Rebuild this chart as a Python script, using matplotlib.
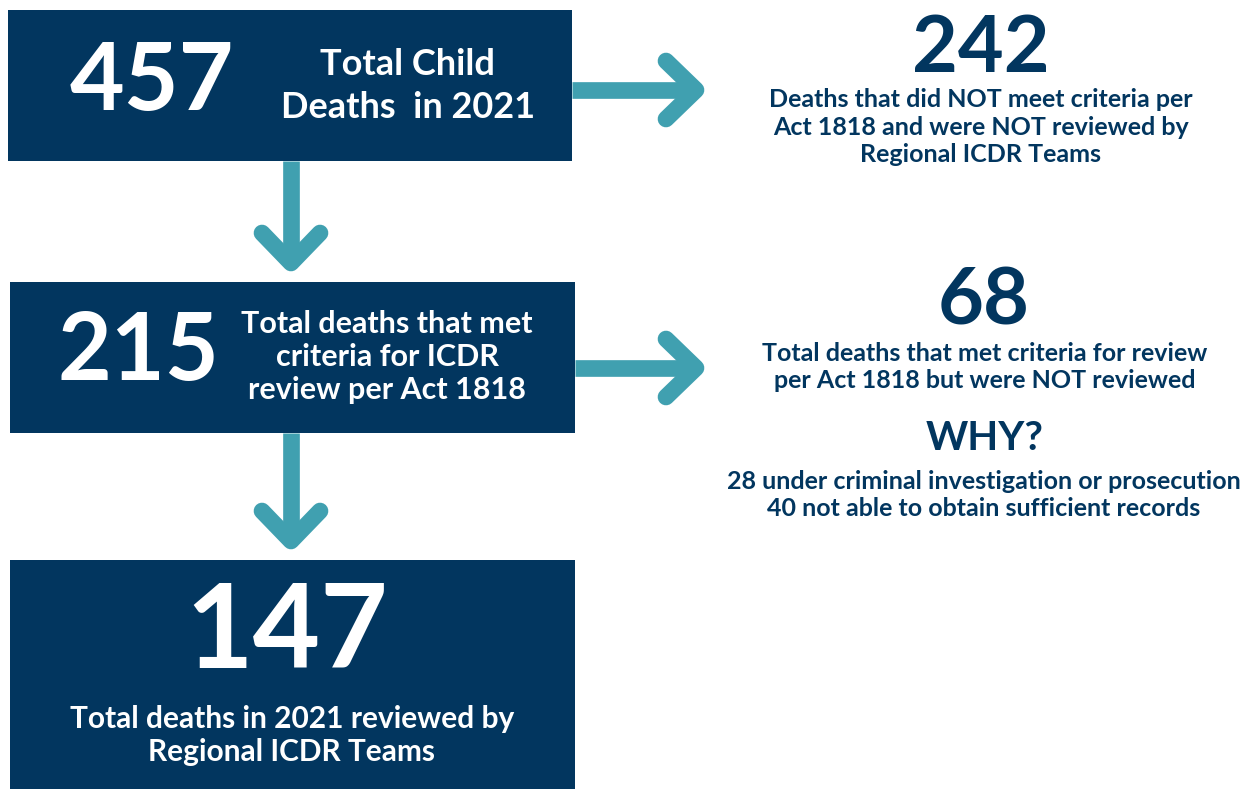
import matplotlib
matplotlib.use("Agg")
import matplotlib.pyplot as plt
from matplotlib.patches import Rectangle

NAVY = "#02365f"
TEAL = "#40a0b0"
FONT = "Lato"

# numbers shown in the flow
total_deaths = 457
not_meeting = 242
met_criteria = 215
met_not_reviewed = 68
reviewed = 147
why_counts = [28, 40]
why_reasons = ["under criminal investigation or prosecution",
               "not able to obtain sufficient records"]

box1_lines = ["Total Child", "Deaths  in 2021"]
box2_lines = ["Total deaths that met", "criteria for ICDR", "review per Act 1818"]
box3_lines = ["Total deaths in 2021 reviewed by", "Regional ICDR Teams"]
side1_lines = ["Deaths that did NOT meet criteria per",
               "Act 1818 and were NOT reviewed by",
               "Regional ICDR Teams"]
side2_lines = ["Total deaths that met criteria for review",
               "per Act 1818 but were NOT reviewed"]

W, H = 1250, 789
fig = plt.figure(figsize=(W / 100, H / 100), dpi=100)
ax = fig.add_axes([0, 0, 1, 1])
ax.set_xlim(0, W)
ax.set_ylim(H, 0)
ax.axis("off")


def box(x0, y0, x1, y1):
    ax.add_patch(Rectangle((x0, y0), x1 - x0, y1 - y0, color=NAVY, lw=0))


def text(x, y, s, size, color="white"):
    ax.text(x, y, s, fontsize=size, color=color, family=FONT,
            fontweight="bold", ha="center", va="baseline")


def lines(x, y0, step, items, size, color="white"):
    for i, s in enumerate(items):
        text(x, y0 + i * step, s, size, color)


def arrow_down(x, y0, y1):
    kw = dict(color=TEAL, lw=12, solid_capstyle="round", solid_joinstyle="round")
    ax.plot([x, x], [y0, y1 - 4], solid_capstyle="butt", color=TEAL, lw=12)
    ax.plot([x - 29, x, x + 29], [y1 - 30, y1, y1 - 30], **kw)


def arrow_right(y, x0, x1):
    kw = dict(color=TEAL, lw=12, solid_capstyle="round", solid_joinstyle="round")
    ax.plot([x0, x1 - 4], [y, y], solid_capstyle="butt", color=TEAL, lw=12)
    ax.plot([x1 - 30, x1, x1 - 30], [y - 29, y, y + 29], **kw)


# boxes
box(8, 10, 572, 161)
box(10, 282, 575, 433)
box(10, 560, 575, H)

# arrows
arrow_down(291, 161, 263)
arrow_down(291, 433, 541)
arrow_right(90, 572, 696)
arrow_right(368, 575, 696)

# box 1
text(152, 110, str(total_deaths), 68)
lines(408, 75, 43, box1_lines, 26)

# box 2
text(138, 380, str(met_criteria), 67)
lines(387, 333, 33, box2_lines, 22)

# box 3
text(287, 668, str(reviewed), 84)
lines(292, 728, 33, box3_lines, 21.5)

# side notes
text(981, 72, str(not_meeting), 57, NAVY)
lines(981, 107, 27.5, side1_lines, 18, NAVY)

text(984, 324, str(met_not_reviewed), 57, NAVY)
lines(985, 361, 27, side2_lines, 18, NAVY)

text(985, 450, "WHY?", 29, NAVY)
why_lines = [f"{n} {r}" for n, r in zip(why_counts, why_reasons)]
lines(984, 489, 27, why_lines, 18, NAVY)

fig.savefig("out.png", dpi=100)
